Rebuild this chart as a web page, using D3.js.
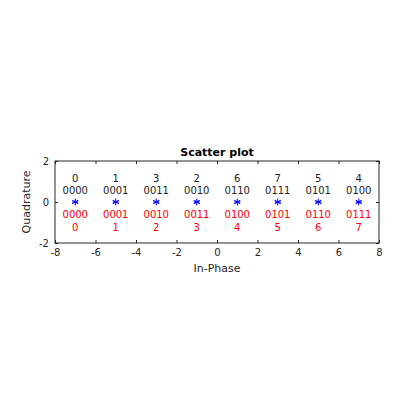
<!DOCTYPE html>
<html>
<head>
<meta charset="utf-8">
<script src="https://cdn.jsdelivr.net/npm/d3@7"></script>
<style>
  body { margin: 0; background: #fff; }
  text { font-family: "DejaVu Sans", sans-serif; }
</style>
</head>
<body>
<div id="chart"></div>
<script>
// constellation points (in-phase, quadrature)
let inPhase = [-7, -5, -3, -1, 1, 3, 5, 7];
let quadrature = [0, 0, 0, 0, 0, 0, 0, 0];
// gray coded labels (black, above)
let grayDec = ['0', '1', '3', '2', '6', '7', '5', '4'];
let grayBin = ['0000', '0001', '0011', '0010', '0110', '0111', '0101', '0100'];
// natural labels (red, below)
let natBin = ['0000', '0001', '0010', '0011', '0100', '0101', '0110', '0111'];
let natDec = ['0', '1', '2', '3', '4', '5', '6', '7'];

let xTicks = [-8, -6, -4, -2, 0, 2, 4, 6, 8];
let yTicks = [-2, 0, 2];

let margin = ({top: 161, right: 41, bottom: 177, left: 55});
let width = 420 - margin.left - margin.right;
let height = 420 - margin.top - margin.bottom;

let svg = d3.select('#chart').append('svg')
    .attr('width', 420)
    .attr('height', 420)
    .append('g')
    .attr('transform', `translate(${margin.left}, ${margin.top})`);

let x = d3.scaleLinear().domain([-8, 8]).range([0, width]);
let y = d3.scaleLinear().domain([-2, 2]).range([height, 0]);

let axisColor = '#262626';
let fmt = d => String(d);

function styleAxis(g, hideText) {
    g.select('.domain').remove();
    g.selectAll('line').attr('stroke', axisColor);
    g.selectAll('text')
        .attr('fill', axisColor)
        .style('font-size', '10px');
    if (hideText) g.selectAll('text').remove();
}

svg.append('g')
    .attr('transform', `translate(0, ${height})`)
    .call(d3.axisBottom(x).tickValues(xTicks).tickFormat(fmt).tickSize(-3).tickPadding(6))
    .call(g => styleAxis(g, false));

svg.append('g')
    .call(d3.axisTop(x).tickValues(xTicks).tickSize(-3))
    .call(g => styleAxis(g, true));

svg.append('g')
    .call(d3.axisLeft(y).tickValues(yTicks).tickFormat(fmt).tickSize(-3).tickPadding(6))
    .call(g => styleAxis(g, false));

svg.append('g')
    .attr('transform', `translate(${width}, 0)`)
    .call(d3.axisRight(y).tickValues(yTicks).tickSize(-3))
    .call(g => styleAxis(g, true));

svg.append('rect')
    .attr('width', width)
    .attr('height', height)
    .attr('fill', 'none')
    .attr('stroke', axisColor)
    .attr('stroke-width', 1);

let pts = inPhase.map((d, i) => ({x: d, y: quadrature[i], i: i}));

// asterisk markers
let star = svg.append('g').selectAll('g')
    .data(pts)
    .enter().append('g')
    .attr('transform', d => `translate(${x(d.x)}, ${y(d.y)})`);

[0, 60, 120].forEach(a => {
    star.append('line')
        .attr('x1', 0).attr('y1', -3.5)
        .attr('x2', 0).attr('y2', 3.5)
        .attr('transform', `rotate(${a})`)
        .attr('stroke', '#0000ff')
        .attr('stroke-width', 1);
});
star.append('line')
    .attr('x1', -3).attr('x2', 3)
    .attr('y1', 0).attr('y2', 0)
    .attr('stroke', '#0000ff');

function addLabels(arr, dy, color) {
    svg.append('g').selectAll('text')
        .data(pts)
        .enter().append('text')
        .attr('x', d => x(d.x))
        .attr('y', d => y(d.y + dy))
        .attr('dy', '0.35em')
        .attr('text-anchor', 'middle')
        .attr('fill', color)
        .style('font-size', '10px')
        .text(d => arr[d.i]);
}

addLabels(grayDec, 1.17, '#222');
addLabels(grayBin, 0.58, '#222');
addLabels(natBin, -0.63, '#ff0000');
addLabels(natDec, -1.22, '#ff0000');

svg.append('text')
    .attr('x', width / 2)
    .attr('y', -5)
    .attr('text-anchor', 'middle')
    .attr('fill', '#000')
    .style('font-size', '11px')
    .style('font-weight', 'bold')
    .text('Scatter plot');

svg.append('text')
    .attr('x', width / 2)
    .attr('y', height + 29)
    .attr('text-anchor', 'middle')
    .attr('fill', axisColor)
    .style('font-size', '11px')
    .text('In-Phase');

svg.append('text')
    .attr('transform', `translate(-25, ${height / 2}) rotate(-90)`)
    .attr('text-anchor', 'middle')
    .attr('fill', axisColor)
    .style('font-size', '11px')
    .text('Quadrature');
</script>
</body>
</html>
